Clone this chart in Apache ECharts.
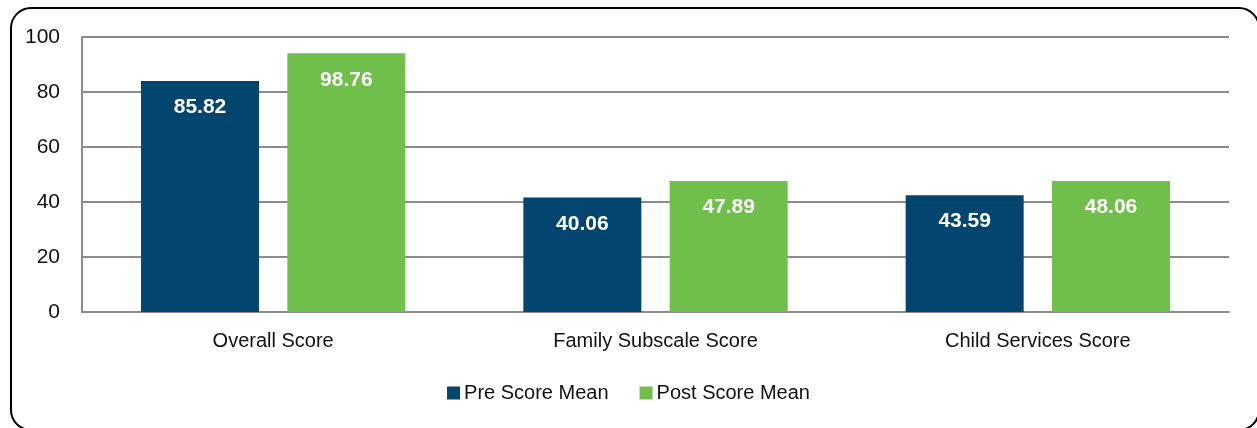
<!DOCTYPE html>
<html>
<head>
<meta charset="utf-8">
<script src="https://cdn.jsdelivr.net/npm/echarts@6/dist/echarts.min.js"></script>
<style>
  html, body { margin: 0; padding: 0; background: #fff; }
  #chart { width: 1257px; height: 428px; }
</style>
</head>
<body>
<div id="chart"></div>
<script>
// categories and series (bar heights, labels as printed)
const categories = ['Overall Score', 'Family Subscale Score', 'Child Services Score'];
const preValues = [84.0, 41.6, 42.5];
const postValues = [94.1, 47.6, 47.6];
const preLabels = ['85.82', '40.06', '43.59'];
const postLabels = ['98.76', '47.89', '48.06'];
const yTicks = [0, 20, 40, 60, 80, 100];

const FONT = '"Liberation Sans", Arial, sans-serif';

const chart = echarts.init(document.getElementById('chart'));

function barLabel(labels) {
  return {
    show: true,
    position: 'insideTop',
    distance: 16,
    color: '#fff',
    fontFamily: FONT,
    fontWeight: 'bold',
    fontSize: 21,
    formatter: p => labels[p.dataIndex],
  };
}

chart.setOption({
  animation: false,
  backgroundColor: '#fff',
  graphic: [{
    type: 'rect',
    shape: { x: 11, y: 8, width: 1248, height: 422, r: 20 },
    style: { fill: 'none', stroke: '#000', lineWidth: 2 },
    silent: true,
  }],
  legend: {
    top: 378,
    left: 'center',
    itemWidth: 13,
    itemHeight: 13,
    itemGap: 31,
    icon: 'rect',
    textStyle: { fontFamily: FONT, fontSize: 20, color: '#111', padding: [0, 0, 0, -1] },
    data: ['Pre Score Mean', 'Post Score Mean'],
  },
  grid: { left: 82, right: 28, top: 37, height: 275, containLabel: false },
  xAxis: {
    type: 'category',
    data: categories,
    axisLine: { lineStyle: { color: '#8c8c8c', width: 2 } },
    axisTick: { show: false },
    axisLabel: { fontFamily: FONT, fontSize: 20, color: '#111', margin: 19 },
  },
  yAxis: {
    type: 'value',
    min: yTicks[0],
    max: yTicks[yTicks.length - 1],
    interval: 20,
    axisLine: { show: true, lineStyle: { color: '#8c8c8c', width: 2 } },
    axisTick: { show: false },
    splitLine: { lineStyle: { color: '#8c8c8c', width: 2 } },
    axisLabel: { fontFamily: FONT, fontSize: 21, color: '#111', margin: 22 },
  },
  series: [
    {
      name: 'Pre Score Mean',
      type: 'bar',
      data: preValues,
      barWidth: 118,
      barGap: '24%',
      itemStyle: { color: '#024670' },
      label: barLabel(preLabels),
    },
    {
      name: 'Post Score Mean',
      type: 'bar',
      data: postValues,
      barWidth: 118,
      itemStyle: { color: '#71BF4B' },
      label: barLabel(postLabels),
    },
  ],
});
</script>
</body>
</html>
